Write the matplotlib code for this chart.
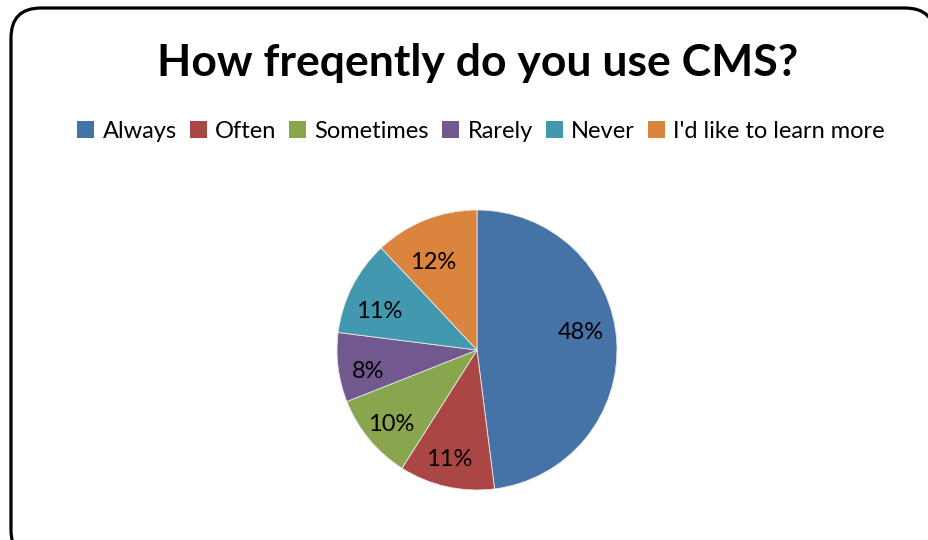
import matplotlib
matplotlib.use('Agg')
import matplotlib.pyplot as plt
from matplotlib.patches import FancyBboxPatch, Patch

plt.rcParams['font.family'] = ['Lato', 'DejaVu Sans']

categories = ['Always', 'Often', 'Sometimes', 'Rarely', 'Never', "I'd like to learn more"]
shares = [48, 11, 10, 8, 11, 12]
colors = ['#4572A7', '#AA4643', '#89A54E', '#71588F', '#4198AF', '#DB843D']

W, H = 929, 540
fig = plt.figure(figsize=(W / 100, H / 100), dpi=100)

# frame axes in pixel coordinates
bg = fig.add_axes([0, 0, 1, 1])
bg.set_xlim(0, W)
bg.set_ylim(H, 0)
bg.axis('off')
frame = FancyBboxPatch((11, 8), 935 - 11, 560 - 8,
                       boxstyle='round,pad=0,rounding_size=30',
                       facecolor='white', edgecolor='black', linewidth=2.3)
bg.add_patch(frame)

bg.text(478, 63, 'How freqently do you use CMS?', ha='center', va='center',
        fontsize=32, fontweight='bold')

# pie
cx, cy, r = 477, 350, 140
ax = fig.add_axes([(cx - r) / W, (H - cy - r) / H, 2 * r / W, 2 * r / H])
wedges, texts, pcts = ax.pie(shares, colors=colors, startangle=90, counterclock=False, radius=1,
                             autopct='%d%%', pctdistance=0.74,
                             wedgeprops=dict(linewidth=0.6, edgecolor='#e8e8e8'),
                             textprops=dict(fontsize=17, color='black'))
# nudge labels a little, as the original does
for i, t in enumerate(pcts):
    x, y = t.get_position()
    if i == 0:
        t.set_position((x, y + 0.08))
    else:
        t.set_position((x - 0.04, y - 0.06))
ax.set_xlim(-1, 1)
ax.set_ylim(-1, 1)
ax.set_aspect('equal')
ax.axis('off')

handles = [Patch(facecolor=c, edgecolor='none') for c in colors]
bg.legend(handles, categories, loc='center', bbox_to_anchor=(481 / W, 1 - 131 / H),
          bbox_transform=fig.transFigure, ncol=6, frameon=False, fontsize=17,
          handlelength=0.72, handleheight=0.72, handletextpad=0.35,
          columnspacing=0.55, borderaxespad=0)

fig.savefig('out.png', dpi=100)
